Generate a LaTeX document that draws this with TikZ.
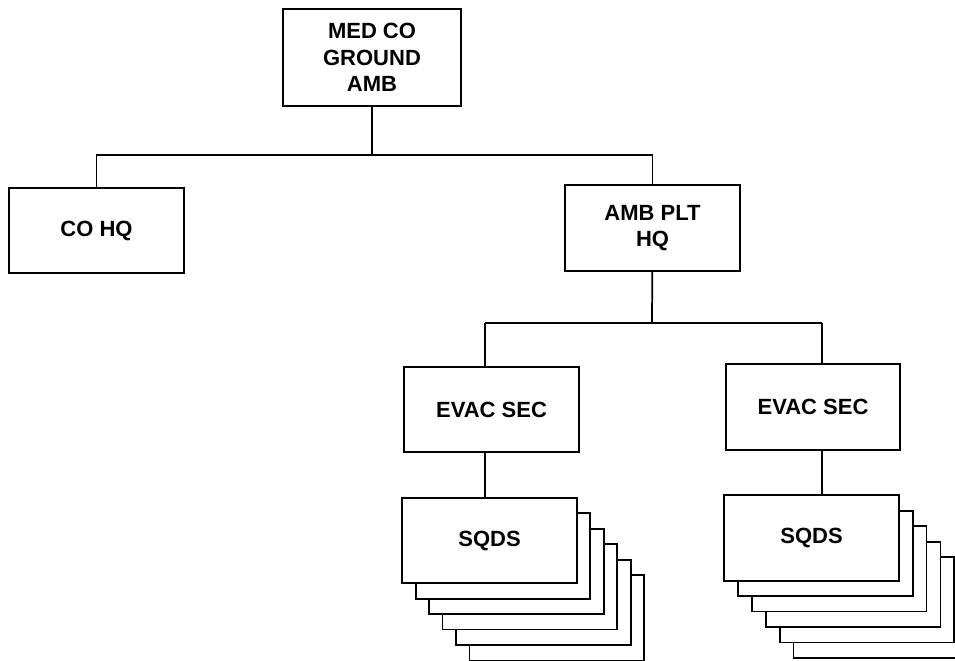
\documentclass[tikz,border=0pt]{standalone}
\usepackage{fontspec}
\setmainfont{Liberation Sans}
\usetikzlibrary{positioning}

\tikzset{
  unit/.style={draw, fill=white, line width=1.3pt, align=center, inner sep=0pt,
    minimum width=131pt, minimum height=64pt,
    font=\fontsize{16.5}{20}\selectfont\bfseries},
  link/.style={line width=1.3pt}
}

\begin{document}
\begin{tikzpicture}[x=0.75pt, y=-0.75pt]
  \useasboundingbox (0,0) rectangle (955,660);

  % TOP OF THE CHART
  \node[unit, minimum width=133.5pt, minimum height=73pt] (medco) at (372,57.5) {MED CO\\GROUND\\AMB};
  \node[unit] (cohq)   at (96.5,230.5) {CO HQ};
  \node[unit] (ambplt) at (652.5,228)  {AMB PLT\\HQ};

  \coordinate (busA) at (372,155);
  \draw[link] (medco) -- (busA);
  \draw[link] (cohq.north) |- (busA) -| (ambplt.north);

  % SECTIONS
  \node[unit] (evacL) at (491.5,409.5) {EVAC SEC};
  \node[unit] (evacR) at (813,407)     {EVAC SEC};

  \coordinate (busB) at (652,323);
  \coordinate (colL) at (485,323);
  \coordinate (colR) at (822,323);
  \draw[link] (ambplt) -- (busB);
  \draw[link] (colL) -- (colR);
  \draw[link] (colL) -- (colL |- evacL.north);
  \draw[link] (colR) -- (colR |- evacR.north);

  % SQUAD STACKS (back to front)
  \foreach \k in {5,4,...,1} {
    \node[unit, xshift=\k*10.1pt, yshift=-\k*11.6pt] (sqdsL\k) at (489.5,540.5) {};
    \node[unit, xshift=\k*10.4pt, yshift=-\k*11.6pt] (sqdsR\k) at (811.5,538) {};
  }
  \node[unit] (sqdsL) at (489.5,540.5) {SQDS};
  \node[unit] (sqdsR) at (811.5,538)   {SQDS};

  \draw[link] (evacL.south -| colL) -- (sqdsL.north -| colL);
  \draw[link] (evacR.south -| colR) -- (sqdsR.north -| colR);
\end{tikzpicture}
\end{document}
